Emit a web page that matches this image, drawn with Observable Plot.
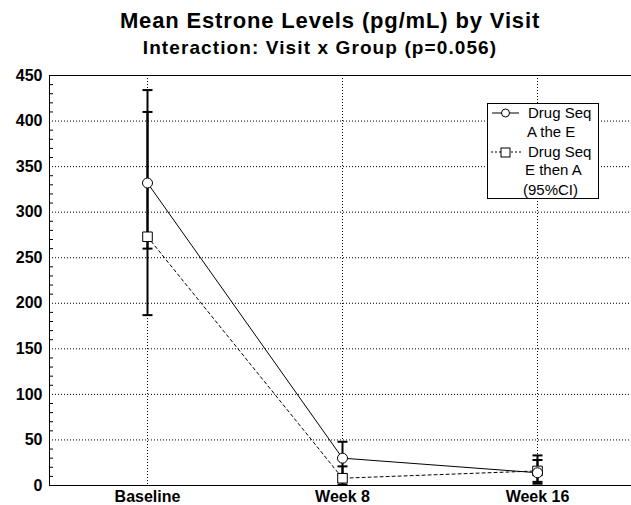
<!DOCTYPE html>
<html>
<head>
<meta charset="utf-8">
<script src="https://cdn.jsdelivr.net/npm/d3@7"></script>
<script src="https://cdn.jsdelivr.net/npm/@observablehq/plot@0.6"></script>
<style>
html, body { margin: 0; padding: 0; background: white; overflow: hidden; }
#wrap { position: relative; width: 631px; height: 505px; overflow: hidden; font-family: "Liberation Sans", Arial, sans-serif; }
#title { position: absolute; left: 0; width: 660px; top: 8px; text-align: center; font-weight: bold; font-size: 22px; letter-spacing: 0.85px; color: #000; }
#subtitle { position: absolute; left: 0; width: 640px; top: 37px; text-align: center; font-weight: bold; font-size: 19px; letter-spacing: 1.1px; color: #000; }
#chart { position: absolute; left: 0; top: 60px; width: 670px; }
#chart svg { max-width: none !important; width: 670px; height: 445px; }
#legend { position: absolute; left: 487px; top: 103px; width: 110px; height: 94px; border: 1px solid #000; background: white; font-size: 15px; }
#legend .t { position: absolute; white-space: nowrap; line-height: 1; }
#legend svg { position: absolute; left: 0; top: 0; }
</style>
</head>
<body>
<div id="wrap">
  <div id="title">Mean Estrone Levels (pg/mL) by Visit</div>
  <div id="subtitle">Interaction: Visit x Group (p=0.056)</div>
  <div id="chart"></div>
  <div id="legend">
    <svg width="110" height="94">
      <line x1="4" x2="31" y1="9" y2="9" stroke="black" stroke-width="1"/>
      <circle cx="17.5" cy="9" r="4" fill="white" stroke="black"/>
      <line x1="3" x2="33" y1="48" y2="48" stroke="black" stroke-width="1" stroke-dasharray="2,2"/>
      <rect x="13" y="44" width="9" height="9" fill="white" stroke="black"/>
    </svg>
    <div class="t" style="left:40px; top:1px">Drug Seq</div>
    <div class="t" style="left:39px; top:20px">A the E</div>
    <div class="t" style="left:40px; top:40px">Drug Seq</div>
    <div class="t" style="left:37px; top:58px">E then A</div>
    <div class="t" style="left:35px; top:78px">(95%CI)</div>
  </div>
</div>
<script>
const visits = ["Baseline", "Week 8", "Week 16"];
const groups = ["Drug Seq A the E", "Drug Seq E then A"];
const meanA = [332, 30, 14];
const meanB = [273, 8, 16];
const lowA = [260, 12, 2];
const highA = [410, 48, 28];
const lowB = [187, 1, 4];
const highB = [434, 21, 33];
const yTicks = [0, 50, 100, 150, 200, 250, 300, 350, 400, 450];
const gridTicks = [50, 100, 150, 200, 250, 300, 350, 400];
const minorTicks = d3.range(0, 451, 10).filter(v => v % 50 !== 0);

const rows = [];
visits.forEach((v, i) => {
  rows.push({visit: v, group: groups[0], mean: meanA[i], lo: lowA[i], hi: highA[i]});
  rows.push({visit: v, group: groups[1], mean: meanB[i], lo: lowB[i], hi: highB[i]});
});
const rowsA = rows.filter(d => d.group === groups[0]);
const rowsB = rows.filter(d => d.group === groups[1]);
const caps = rows.flatMap(d => [{visit: d.visit, v: d.lo}, {visit: d.visit, v: d.hi}]);

const capSymbol = {
  draw(context, size) {
    const r = Math.sqrt(size / Math.PI);
    context.moveTo(-r, 0);
    context.lineTo(r, 0);
  }
};

const font = "Liberation Sans, Arial, sans-serif";

const chart = Plot.plot({
  width: 670,
  height: 445,
  marginLeft: 49,
  marginRight: 35,
  marginTop: 15,
  marginBottom: 20,
  style: {fontFamily: font, background: "white", maxWidth: "none"},
  x: {type: "point", domain: visits, padding: 0.5, label: null},
  y: {domain: [0, 450], label: null},
  marks: [
    Plot.gridY(gridTicks, {stroke: "black", strokeOpacity: 1, strokeDasharray: "1,2"}),
    Plot.gridX(visits, {stroke: "black", strokeOpacity: 1, strokeDasharray: "1,2"}),
    Plot.axisY(minorTicks, {tickSize: -4, tickFormat: () => "", stroke: "black", strokeOpacity: 1, label: null}),
    Plot.axisY(yTicks, {tickSize: 0, tickPadding: 7, fontSize: 16, fontWeight: "bold", fill: "black", label: null}),
    Plot.axisX(visits, {tickSize: 0, tickPadding: 5, fontSize: 16, fontWeight: "bold", fill: "black", label: null}),
    Plot.ruleY([0, 450], {stroke: "black"}),
    Plot.frame({anchor: "left", stroke: "black"}),
    Plot.line(rowsB, {x: "visit", y: "mean", stroke: "black", strokeWidth: 1, strokeDasharray: "3,3"}),
    Plot.line(rowsA, {x: "visit", y: "mean", stroke: "black", strokeWidth: 1}),
    Plot.ruleX(rows, {x: "visit", y1: "lo", y2: "hi", stroke: "black", strokeWidth: 2}),
    Plot.dot(caps, {x: "visit", y: "v", symbol: capSymbol, r: 5, stroke: "black", strokeWidth: 2, fill: "none"}),
    Plot.dot(rowsB, {x: "visit", y: "mean", symbol: "square", r: 5.4, fill: "white", stroke: "black", strokeWidth: 1}),
    Plot.dot(rowsA, {x: "visit", y: "mean", symbol: "circle", r: 5, fill: "white", stroke: "black", strokeWidth: 1})
  ]
});
document.getElementById("chart").appendChild(chart);
</script>
</body>
</html>
